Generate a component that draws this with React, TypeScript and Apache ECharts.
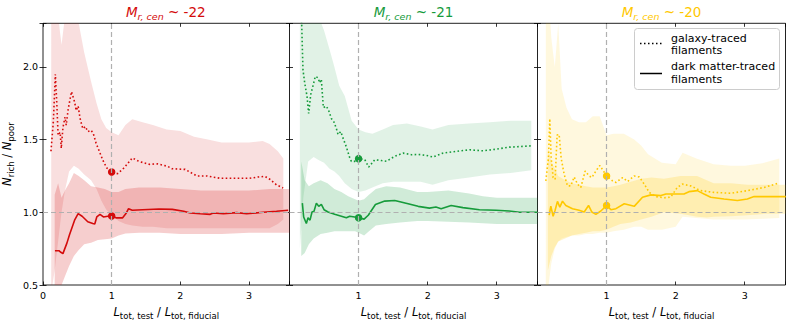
import React, { useEffect, useRef } from 'react';
import * as echarts from 'echarts';

// ---------- data ----------
const panelTitles = ['-22', '-21', '-20'];
const xTickValues = [0, 1, 2, 3];
const yTickValues = [0.5, 1.0, 1.5, 2.0];

// Panel 1 (M ~ -22, red)
const redGalX = [0.116, 0.15, 0.18, 0.2, 0.22, 0.25, 0.266, 0.29, 0.32, 0.338, 0.367, 0.415, 0.46, 0.483, 0.512, 0.54, 0.58, 0.618, 0.652, 0.7, 0.734, 0.773, 0.82, 0.87, 0.928, 1.0, 1.087, 1.18, 1.3, 1.4, 1.546, 1.667, 1.81, 1.88, 2.07, 2.24, 2.386, 2.58, 2.82, 3.01, 3.135, 3.232, 3.304, 3.4, 3.497];
const redGalY = [1.42, 1.62, 1.95, 1.76, 1.53, 1.55, 1.44, 1.58, 1.655, 1.6, 1.71, 1.83, 1.76, 1.7, 1.73, 1.645, 1.575, 1.59, 1.555, 1.565, 1.54, 1.475, 1.42, 1.36, 1.305, 1.277, 1.266, 1.305, 1.374, 1.35, 1.33, 1.333, 1.317, 1.3, 1.295, 1.25, 1.25, 1.234, 1.234, 1.234, 1.243, 1.247, 1.227, 1.189, 1.167];
const redDmX = [0.174, 0.232, 0.26, 0.29, 0.348, 0.386, 0.46, 0.512, 0.57, 0.652, 0.725, 0.754, 0.783, 0.83, 0.88, 0.942, 1.0, 1.063, 1.16, 1.208, 1.246, 1.3, 1.45, 1.69, 1.884, 2.05, 2.145, 2.29, 2.435, 2.48, 2.628, 2.82, 2.966, 3.207, 3.4, 3.57];
const redDmY = [0.736, 0.736, 0.725, 0.716, 0.788, 0.845, 0.946, 0.991, 0.973, 0.935, 0.923, 0.919, 0.968, 0.986, 0.968, 0.973, 0.975, 0.962, 0.962, 0.991, 1.025, 1.014, 1.018, 1.023, 1.02, 1.007, 0.995, 0.99, 0.986, 0.995, 0.99, 0.998, 0.99, 1.0, 1.007, 1.014];
const redGalBandX = [0.12, 0.17, 0.22, 0.27, 0.32, 0.38, 0.45, 0.52, 0.6, 0.7, 0.78, 0.85, 0.92, 1.0, 1.1, 1.2, 1.3, 1.45, 1.6, 1.8, 2.0, 2.2, 2.4, 2.6, 2.8, 3.0, 3.2, 3.3, 3.42, 3.5];
const redGalBandHi = [2.4, 2.45, 2.35, 2.15, 2.35, 2.5, 2.45, 2.3, 2.1, 1.9, 1.75, 1.64, 1.58, 1.55, 1.53, 1.6, 1.64, 1.62, 1.6, 1.57, 1.56, 1.52, 1.5, 1.48, 1.48, 1.48, 1.49, 1.47, 1.42, 1.37];
const redGalBandLo = [0.45, 0.6, 0.8, 1.0, 1.15, 1.28, 1.32, 1.3, 1.26, 1.22, 1.16, 1.08, 1.02, 0.98, 0.94, 0.92, 0.91, 0.9, 0.9, 0.89, 0.89, 0.89, 0.89, 0.89, 0.89, 0.89, 0.89, 0.89, 0.92, 0.95];
const redDmBandX = [0.17, 0.22, 0.27, 0.32, 0.38, 0.45, 0.52, 0.6, 0.7, 0.8, 0.9, 1.0, 1.1, 1.2, 1.4, 1.7, 2.0, 2.3, 2.6, 3.0, 3.3, 3.59];
const redDmBandHi = [1.12, 1.2, 1.1, 1.15, 1.2, 1.27, 1.25, 1.22, 1.18, 1.17, 1.16, 1.14, 1.14, 1.16, 1.17, 1.17, 1.16, 1.15, 1.15, 1.15, 1.16, 1.16];
const redDmBandLo = [0.45, 0.45, 0.5, 0.56, 0.63, 0.7, 0.74, 0.78, 0.79, 0.81, 0.815, 0.82, 0.84, 0.855, 0.86, 0.86, 0.85, 0.85, 0.85, 0.86, 0.86, 0.86];
const redFiducial = [1.277, 0.975];

// Panel 2 (M ~ -21, green)
const greenGalX = [0.171, 0.182, 0.195, 0.22, 0.253, 0.277, 0.307, 0.34, 0.374, 0.413, 0.437, 0.461, 0.49, 0.534, 0.567, 0.606, 0.645, 0.679, 0.703, 0.742, 0.775, 0.823, 0.872, 0.896, 0.944, 1.0, 1.09, 1.147, 1.234, 1.33, 1.403, 1.524, 1.645, 1.765, 1.862, 1.978, 2.075, 2.22, 2.413, 2.606, 2.8, 2.99, 3.18, 3.33, 3.5];
const greenGalY = [2.4, 2.2, 1.98, 1.89, 1.8, 1.68, 1.81, 1.87, 1.935, 1.925, 1.89, 1.915, 1.72, 1.73, 1.7, 1.645, 1.62, 1.575, 1.535, 1.555, 1.51, 1.45, 1.375, 1.35, 1.35, 1.369, 1.362, 1.311, 1.362, 1.356, 1.351, 1.385, 1.407, 1.396, 1.398, 1.392, 1.38, 1.407, 1.419, 1.43, 1.423, 1.434, 1.448, 1.452, 1.457];
const greenDmX = [0.186, 0.205, 0.244, 0.268, 0.297, 0.326, 0.355, 0.389, 0.423, 0.461, 0.5, 0.558, 0.654, 0.751, 0.823, 0.872, 0.944, 1.0, 1.08, 1.14, 1.244, 1.379, 1.524, 1.717, 1.862, 2.026, 2.12, 2.195, 2.34, 2.51, 2.75, 2.99, 3.18, 3.33, 3.59];
const greenDmY = [1.063, 0.968, 0.923, 0.962, 0.946, 1.002, 1.007, 1.063, 1.041, 1.054, 1.018, 1.002, 0.986, 0.973, 0.962, 0.973, 0.968, 0.962, 0.953, 0.98, 1.054, 1.077, 1.081, 1.059, 1.041, 1.029, 1.036, 1.025, 1.047, 1.032, 1.018, 1.014, 1.009, 1.0, 1.0];
const greenGalBandX = [0.15, 0.2, 0.27, 0.35, 0.42, 0.5, 0.58, 0.65, 0.72, 0.8, 0.9, 1.0, 1.1, 1.2, 1.35, 1.5, 1.7, 1.9, 2.07, 2.3, 2.6, 2.9, 3.2, 3.5];
const greenGalBandHi = [2.5, 2.5, 2.5, 2.5, 2.35, 2.25, 2.12, 2.0, 1.87, 1.8, 1.63, 1.57, 1.55, 1.54, 1.57, 1.6, 1.61, 1.59, 1.57, 1.6, 1.61, 1.62, 1.63, 1.63];
const greenGalBandLo = [0.75, 1.1, 1.35, 1.38, 1.36, 1.34, 1.3, 1.28, 1.25, 1.2, 1.16, 1.14, 1.15, 1.17, 1.2, 1.21, 1.21, 1.21, 1.19, 1.22, 1.24, 1.26, 1.27, 1.29];
const greenDmBandX = [0.17, 0.22, 0.28, 0.35, 0.45, 0.55, 0.65, 0.75, 0.85, 0.95, 1.0, 1.08, 1.15, 1.25, 1.4, 1.6, 1.85, 2.0, 2.3, 2.6, 2.8, 3.0, 3.3, 3.59];
const greenDmBandHi = [1.35, 1.22, 1.18, 1.2, 1.22, 1.2, 1.16, 1.14, 1.11, 1.09, 1.08, 1.09, 1.12, 1.16, 1.18, 1.17, 1.14, 1.14, 1.15, 1.13, 1.11, 1.1, 1.1, 1.1];
const greenDmBandLo = [0.7, 0.72, 0.78, 0.82, 0.85, 0.86, 0.87, 0.87, 0.87, 0.87, 0.86, 0.84, 0.87, 0.91, 0.92, 0.93, 0.94, 0.94, 0.935, 0.93, 0.925, 0.92, 0.92, 0.92];
const greenFiducial = [1.369, 0.962];

// Panel 3 (M ~ -20, yellow)
const yellowGalX = [0.12, 0.159, 0.178, 0.198, 0.226, 0.255, 0.284, 0.313, 0.342, 0.386, 0.434, 0.482, 0.531, 0.579, 0.627, 0.69, 0.748, 0.787, 0.845, 0.903, 1.0, 1.087, 1.135, 1.232, 1.304, 1.4, 1.473, 1.545, 1.618, 1.715, 1.835, 1.927, 2.024, 2.096, 2.217, 2.362, 2.555, 2.797, 3.038, 3.28, 3.473];
const yellowGalY = [1.216, 1.374, 1.644, 1.374, 1.239, 1.227, 1.531, 1.536, 1.374, 1.261, 1.182, 1.182, 1.243, 1.194, 1.171, 1.284, 1.25, 1.239, 1.284, 1.322, 1.25, 1.216, 1.205, 1.239, 1.212, 1.25, 1.243, 1.194, 1.137, 1.108, 1.1, 1.104, 1.171, 1.194, 1.182, 1.149, 1.137, 1.131, 1.149, 1.171, 1.198];
const yellowDmX = [0.169, 0.193, 0.226, 0.255, 0.289, 0.323, 0.362, 0.41, 0.507, 0.603, 0.676, 0.739, 0.787, 0.845, 0.917, 1.0, 1.062, 1.135, 1.256, 1.4, 1.52, 1.642, 1.787, 1.859, 1.975, 2.12, 2.193, 2.314, 2.362, 2.41, 2.507, 2.7, 2.894, 3.038, 3.135, 3.377, 3.594];
const yellowDmY = [0.98, 1.043, 0.973, 1.014, 1.075, 1.036, 1.077, 1.047, 1.025, 1.014, 1.002, 1.047, 1.002, 0.986, 1.009, 1.047, 1.018, 1.025, 1.059, 1.041, 1.104, 1.12, 1.115, 1.126, 1.126, 1.126, 1.142, 1.149, 1.137, 1.126, 1.104, 1.092, 1.081, 1.092, 1.108, 1.108, 1.108];
const yellowGalBandX = [0.12, 0.16, 0.2, 0.25, 0.3, 0.35, 0.42, 0.5, 0.6, 0.7, 0.8, 0.9, 1.0, 1.1, 1.25, 1.4, 1.5, 1.6, 1.8, 2.0, 2.1, 2.3, 2.55, 2.8, 3.0, 3.28, 3.5];
const yellowGalBandHi = [2.5, 2.5, 2.2, 2.0, 2.3, 1.85, 1.72, 1.64, 1.62, 1.62, 1.66, 1.66, 1.53, 1.54, 1.54, 1.5, 1.46, 1.4, 1.34, 1.33, 1.41, 1.37, 1.33, 1.32, 1.32, 1.34, 1.37];
const yellowGalBandLo = [0.45, 0.5, 0.65, 0.75, 0.8, 0.82, 0.83, 0.84, 0.84, 0.85, 0.85, 0.86, 0.86, 0.87, 0.88, 0.9, 0.9, 0.88, 0.88, 0.9, 0.97, 0.96, 0.95, 0.95, 0.95, 0.955, 0.96];
const yellowDmBandX = [0.15, 0.2, 0.25, 0.3, 0.4, 0.5, 0.6, 0.7, 0.8, 0.9, 1.0, 1.1, 1.2, 1.35, 1.5, 1.65, 1.83, 2.07, 2.31, 2.45, 2.55, 2.8, 3.04, 3.3, 3.59];
const yellowDmBandHi = [1.45, 1.35, 1.3, 1.25, 1.22, 1.2, 1.19, 1.18, 1.17, 1.17, 1.17, 1.18, 1.19, 1.21, 1.23, 1.24, 1.23, 1.25, 1.25, 1.22, 1.2, 1.2, 1.19, 1.19, 1.19];
const yellowDmBandLo = [0.6, 0.7, 0.76, 0.8, 0.82, 0.84, 0.85, 0.86, 0.87, 0.87, 0.88, 0.9, 0.92, 0.93, 0.95, 0.97, 1.0, 0.99, 0.97, 0.965, 0.97, 0.973, 0.98, 0.99, 0.99];
const yellowFiducial = [1.25, 1.047];

const fiducialX = 1;
const referenceY = 1;

// ---------- styling ----------
const FONT = 'DejaVu Sans';
const colors = ['#d40b0b', '#169b3b', '#ffc800'];
const rgb = [[212, 11, 11], [22, 155, 59], [255, 200, 0]];
const gridLefts = [42, 289.5, 537.5];
const gridWidths = [247.5, 248, 248];
const GRID_TOP = 23.3;
const GRID_H = 265.7;
const X_MIN = 0, X_MAX = 3.59, Y_MIN = 0.5, Y_MAX = 2.3;

const zip = (xs: number[], ys: number[]) => xs.map((x, i) => [x, ys[i]]);

type Panel = {
  galX: number[]; galY: number[]; dmX: number[]; dmY: number[];
  galBandX: number[]; galBandHi: number[]; galBandLo: number[];
  dmBandX: number[]; dmBandHi: number[]; dmBandLo: number[];
  fid: number[];
};

const panels: Panel[] = [
  { galX: redGalX, galY: redGalY, dmX: redDmX, dmY: redDmY, galBandX: redGalBandX, galBandHi: redGalBandHi, galBandLo: redGalBandLo, dmBandX: redDmBandX, dmBandHi: redDmBandHi, dmBandLo: redDmBandLo, fid: redFiducial },
  { galX: greenGalX, galY: greenGalY, dmX: greenDmX, dmY: greenDmY, galBandX: greenGalBandX, galBandHi: greenGalBandHi, galBandLo: greenGalBandLo, dmBandX: greenDmBandX, dmBandHi: greenDmBandHi, dmBandLo: greenDmBandLo, fid: greenFiducial },
  { galX: yellowGalX, galY: yellowGalY, dmX: yellowDmX, dmY: yellowDmY, galBandX: yellowGalBandX, galBandHi: yellowGalBandHi, galBandLo: yellowGalBandLo, dmBandX: yellowDmBandX, dmBandHi: yellowDmBandHi, dmBandLo: yellowDmBandLo, fid: yellowFiducial },
];

// Band drawn as one polygon through the axis scales (api.coord)
function bandSeries(idx: number, xs: number[], lo: number[], hi: number[], fill: string) {
  return {
    type: 'custom', xAxisIndex: idx * 2, yAxisIndex: idx * 2, silent: true, clip: true, z: 1,
    data: xs.map((x, i) => [x, lo[i], hi[i]]),
    encode: { x: 0, y: [1, 2] },
    renderItem: (params: any, api: any) => {
      if (params.dataIndex !== 0) return null;
      const top = xs.map((x, i) => api.coord([x, hi[i]]));
      const bottom = xs.map((x, i) => api.coord([x, lo[i]])).reverse();
      return {
        type: 'polygon',
        shape: { points: top.concat(bottom) },
        style: { fill, stroke: 'none' },
      };
    },
  };
}

function richSet(color: string, main: number, sub: number, lh: number, subLh: number, italicSub: boolean) {
  return {
    i: { fontFamily: FONT, fontStyle: 'italic', fontWeight: 'normal', fontSize: main, color, lineHeight: lh },
    n: { fontFamily: FONT, fontWeight: 'normal', fontSize: main, color, lineHeight: lh },
    s: { fontFamily: FONT, fontStyle: italicSub ? 'italic' : 'normal', fontWeight: 'normal', fontSize: sub, color, lineHeight: subLh, verticalAlign: 'bottom' },
  };
}

function buildOption() {
  const grid: any[] = [];
  const xAxis: any[] = [];
  const yAxis: any[] = [];
  const series: any[] = [];
  const title: any[] = [];

  panels.forEach((p, i) => {
    const [r, g, b] = rgb[i];
    const c = colors[i];
    grid.push({
      left: gridLefts[i], top: GRID_TOP, width: gridWidths[i], height: GRID_H,
      show: true, borderColor: '#222', borderWidth: 1, backgroundColor: 'transparent',
    });
    const tick = { show: true, inside: true, length: 3.5, lineStyle: { color: '#000', width: 0.8 } };
    xAxis.push({
      type: 'value', gridIndex: i, position: 'bottom', min: X_MIN, max: X_MAX, interval: 1,
      axisLine: { show: false }, splitLine: { show: false }, axisTick: tick,
      axisLabel: {
        fontFamily: FONT, fontSize: 9.5, color: '#000', margin: 5,
        formatter: (v: number) => (xTickValues.includes(v) && !(i > 0 && v === 0) ? String(v) : ''),
      },
      name: '{i|L}{s|tot, test}{n| / }{i|L}{s|tot, fiducial}',
      nameLocation: 'middle', nameGap: 19,
      nameTextStyle: { rich: richSet('#000', 11.5, 8.5, 16, 7, false) },
    });
    xAxis.push({
      type: 'value', gridIndex: i, position: 'top', min: X_MIN, max: X_MAX, interval: 1,
      axisLine: { show: false }, splitLine: { show: false }, axisTick: tick, axisLabel: { show: false },
    });
    yAxis.push({
      type: 'value', gridIndex: i, position: 'left', min: Y_MIN, max: Y_MAX, interval: 0.5,
      axisLine: { show: false }, splitLine: { show: false }, axisTick: tick,
      axisLabel: {
        show: i === 0, fontFamily: FONT, fontSize: 9.5, color: '#000', margin: 5,
        formatter: (v: number) => (yTickValues.some((t) => Math.abs(t - v) < 1e-6) ? v.toFixed(1) : ''),
      },
      ...(i === 0
        ? {
            name: '{i|N}{s|rich}{n| / }{i|N}{s|poor}',
            nameLocation: 'middle', nameGap: 28, nameRotate: 90,
            nameTextStyle: { rich: richSet('#000', 11.5, 8.5, 16, 7, false) },
          }
        : {}),
    });
    yAxis.push({
      type: 'value', gridIndex: i, position: 'right', min: Y_MIN, max: Y_MAX, interval: 0.5,
      axisLine: { show: false }, splitLine: { show: false }, axisTick: tick, axisLabel: { show: false },
    });

    series.push(bandSeries(i, p.galBandX, p.galBandLo, p.galBandHi, `rgba(${r},${g},${b},0.13)`));
    series.push(bandSeries(i, p.dmBandX, p.dmBandLo, p.dmBandHi, `rgba(${r},${g},${b},0.2)`));

    series.push({
      type: 'line', xAxisIndex: i * 2, yAxisIndex: i * 2, silent: true, z: 3,
      data: zip(p.galX, p.galY), symbol: 'none',
      lineStyle: { color: c, width: 1.6, type: [1.6, 2.4] },
    });
    series.push({
      type: 'line', xAxisIndex: i * 2, yAxisIndex: i * 2, silent: true, z: 3,
      data: zip(p.dmX, p.dmY), symbol: 'none',
      lineStyle: { color: c, width: 1.6 },
      markLine: {
        silent: true, symbol: ['none', 'none'], label: { show: false },
        lineStyle: { color: '#b0b0b0', width: 1.2, type: [5, 3] },
        data: [{ xAxis: fiducialX }, { yAxis: referenceY }],
      },
    });
    series.push({
      type: 'scatter', xAxisIndex: i * 2, yAxisIndex: i * 2, silent: true, z: 4,
      data: p.fid.map((v) => [fiducialX, v]), symbol: 'circle', symbolSize: 7.5,
      itemStyle: { color: c, opacity: 1 },
    });

    title.push({
      text: `{i|M}{s|r, cen}{n| ~ ${panelTitles[i]}}`,
      left: gridLefts[i] + gridWidths[i] / 2, top: 2, textAlign: 'center', padding: 0,
      textStyle: { fontWeight: 'normal', rich: richSet(c, 13.5, 9.5, 19, 8, true) },
    });
  });

  const legendText = { fill: '#000', fontSize: 11, fontFamily: FONT, lineHeight: 12.5, verticalAlign: 'middle', align: 'left' };
  const graphic = [
    { type: 'rect', z: 100, shape: { x: 634.5, y: 28.5, width: 145, height: 61, r: 3 }, style: { fill: 'rgba(255,255,255,0.85)', stroke: '#cccccc', lineWidth: 1 } },
    { type: 'line', z: 101, shape: { x1: 640, y1: 43.5, x2: 662, y2: 43.5 }, style: { stroke: '#000', lineWidth: 1.5, lineDash: [1.5, 2.5] } },
    { type: 'line', z: 101, shape: { x1: 640, y1: 73.5, x2: 662, y2: 73.5 }, style: { stroke: '#000', lineWidth: 1.5 } },
    { type: 'text', z: 101, x: 671, y: 44.5, style: { ...legendText, text: 'galaxy-traced\nfilaments' } },
    { type: 'text', z: 101, x: 671, y: 73, style: { ...legendText, text: 'dark matter-traced\nfilaments' } },
  ];

  return { animation: false, backgroundColor: '#fff', title, grid, xAxis, yAxis, series, graphic };
}

export default function App() {
  const ref = useRef<HTMLDivElement>(null);
  useEffect(() => {
    const chart = echarts.init(ref.current as HTMLDivElement, null, { renderer: 'svg' });
    chart.setOption(buildOption() as any);
    return () => chart.dispose();
  }, []);
  return (
    <div
      ref={ref}
      style={{ position: 'fixed', left: 0, top: 0, width: 793, height: 325, background: '#fff' }}
    />
  );
}
